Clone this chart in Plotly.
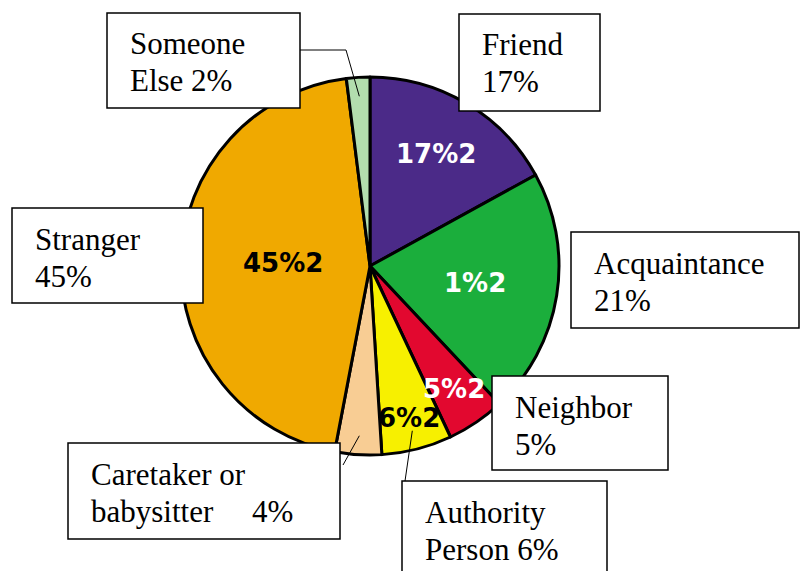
import math
import plotly.graph_objects as go

# ---- data ----
categories = ["Friend", "Acquaintance", "Neighbor", "Authority Person",
              "Caretaker or babysitter", "Stranger", "Someone Else"]
values = [17, 21, 5, 6, 4, 45, 2]
inner_labels = ["17%2", "1%2", "5%2", "6%2", "", "45%2", ""]
callout_texts = ["Friend<br>17%", "Acquaintance<br>21%", "Neighbor<br>5%",
                 "Authority<br>Person 6%", "Caretaker or<br>babysitter     4%",
                 "Stranger<br>45%", "Someone<br>Else 2%"]

# ---- styles / placement ----
colors = ["#4B2A88", "#1BAE3C", "#E2082F", "#F7F000", "#F8CD94", "#F0A900", "#B3DDAE"]
inner_colors = ["white", "white", "white", "black", "black", "black", "black"]
inner_radius_frac = [0.69, 0.56, 0.79, 0.83, 0, 0.46, 0]
# callout boxes in pixels: left, top, right, bottom
boxes = [(459, 14, 600, 111), (571, 232, 799, 328), (492, 376, 668, 470),
         (402, 481, 607, 575), (68, 443, 340, 539), (12, 208, 203, 303),
         (107, 13, 300, 108)]
leader = {6: [(300, 50), (346, 50)], 4: [(343, 465)], 3: [(405, 481)]}

W, H = 800, 571
cx, cy, R = 370, 266, 189

def px(x):
    return x / W

def py(y):
    return 1 - y / H

fig = go.Figure(go.Pie(
    labels=categories, values=values, sort=False, direction="clockwise",
    rotation=0, textinfo="none", hoverinfo="label+value",
    marker=dict(colors=colors, line=dict(color="black", width=3)),
    domain=dict(x=[px(cx - R), px(cx + R)], y=[py(cy + R), py(cy - R)]),
    showlegend=False,
))

total = sum(values)
cum = 0
mids = []
for v in values:
    mids.append((cum + v / 2) / total * 2 * math.pi)
    cum += v

annotations = []
shapes = []
for i, lab in enumerate(inner_labels):
    a = mids[i]
    if lab:
        r = inner_radius_frac[i] * R
        x = cx + r * math.sin(a)
        y = cy - r * math.cos(a)
        annotations.append(dict(
            x=px(x), y=py(y), xref="paper", yref="paper", text=lab,
            showarrow=False, xanchor="center", yanchor="middle",
            font=dict(family="Comic Sans MS, DejaVu Sans", size=26,
                      color=inner_colors[i], weight="bold")))

for i, (l, t, r_, b) in enumerate(boxes):
    shapes.append(dict(type="rect", xref="paper", yref="paper",
                       x0=px(l), x1=px(r_), y0=py(b), y1=py(t),
                       line=dict(color="black", width=1.5), fillcolor="white",
                       layer="above"))
    for k, line in enumerate(callout_texts[i].split("<br>")):
        annotations.append(dict(
            x=px(l + 21), y=py(t + 31 + 37 * k), xref="paper", yref="paper",
            text=line.replace(" ", "&nbsp;"), showarrow=False,
            xanchor="left", yanchor="middle", align="left",
            font=dict(family="Times New Roman", size=31, color="black")))

for i, pts in leader.items():
    a = mids[i]
    r = 0.9 * R
    inner = (cx + r * math.sin(a), cy - r * math.cos(a))
    allp = pts + [inner]
    path = "M " + " L ".join(f"{px(x)},{py(y)}" for x, y in allp)
    shapes.append(dict(type="path", xref="paper", yref="paper", path=path,
                       line=dict(color="black", width=1), layer="above"))

fig.update_layout(
    width=W, height=H, margin=dict(l=0, r=0, t=0, b=0),
    paper_bgcolor="white", plot_bgcolor="white",
    shapes=shapes, annotations=annotations,
)
fig.write_html("out.html")
